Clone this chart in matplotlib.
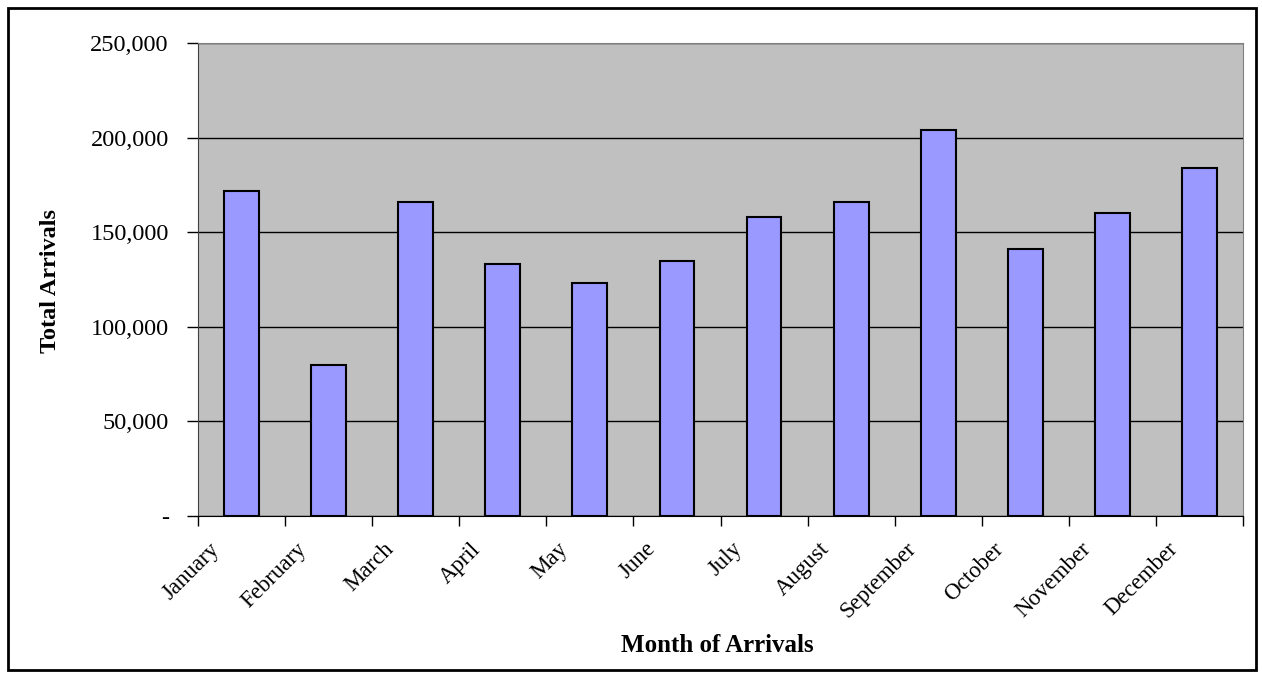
import matplotlib.pyplot as plt
import matplotlib.transforms as mtransforms
from matplotlib.patches import Rectangle
from matplotlib.ticker import FuncFormatter
import numpy as np

# data
months = ["January", "February", "March", "April", "May", "June",
          "July", "August", "September", "October", "November", "December"]
arrivals = [172000, 80000, 166000, 133000, 123000, 135000,
            158000, 166000, 204000, 141000, 160000, 184000]

plt.rcParams['font.family'] = ['Liberation Serif', 'DejaVu Serif']

fig = plt.figure(figsize=(12.62, 6.77), dpi=100)
ax = fig.add_axes([198/1262, (677-516)/677, (1243-198)/1262, (516-43)/677])

# border round the whole chart
fig.patches.append(Rectangle((8/1262, 7/677), 1248/1262, 662/677,
                             transform=fig.transFigure, fill=False,
                             edgecolor='black', linewidth=2))

x = np.arange(len(months))
ax.set_facecolor('#C0C0C0')
ax.bar(x, arrivals, width=0.4, color='#9999FF', edgecolor='black',
       linewidth=1.5, zorder=3)

ax.set_xlim(-0.5, len(months) - 0.5)
ax.set_ylim(0, 250000)
ax.set_yticks(np.arange(0, 250001, 50000))
ax.yaxis.set_major_formatter(FuncFormatter(lambda v, p: '-' if v == 0 else f'{int(v):,}'))
ax.grid(axis='y', color='black', linewidth=1, zorder=1)

# category labels at centres, tick marks at boundaries
ax.set_xticks(x)
ax.set_xticklabels(months, rotation=45, ha='right', va='center',
                   rotation_mode='anchor', fontsize=16.5)
ax.set_xticks(np.arange(-0.5, len(months)), minor=True)
ax.tick_params(axis='x', which='major', length=0, pad=0)
ax.tick_params(axis='x', which='minor', length=7, width=1)
ax.tick_params(axis='y', length=8, width=1, pad=13, labelsize=17.5)
offset = mtransforms.ScaledTranslation(-0.25, -0.30, fig.dpi_scale_trans)
for lab in ax.get_xticklabels():
    lab.set_transform(lab.get_transform() + offset)

for s in ['top', 'right']:
    ax.spines[s].set_color('#808080')
ax.spines['left'].set_color('#404040')
ax.spines['bottom'].set_color('black')

fig.text(717/1262, 1 - 645/677, "Month of Arrivals", fontsize=18,
         fontweight='bold', ha='center', va='center')
fig.text(50/1262, 1 - 281/677, "Total Arrivals", fontsize=17.5,
         fontweight='bold', ha='center', va='center', rotation=90)

fig.savefig("out.png", dpi=100)
